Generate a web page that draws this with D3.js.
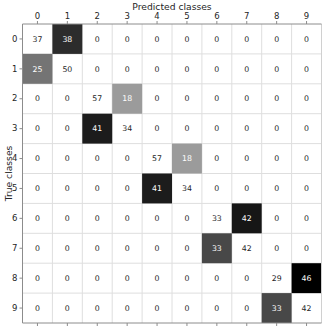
<!DOCTYPE html>
<html>
<head>
<meta charset="utf-8">
<script src="https://cdn.jsdelivr.net/npm/d3@7"></script>
<style>
  body { margin: 0; background: #fff; }
  svg { display: block; font-family: "DejaVu Sans", sans-serif; }
</style>
</head>
<body>
<svg width="329" height="329"></svg>
<script>
// class labels on both axes
var classes = ["0", "1", "2", "3", "4", "5", "6", "7", "8", "9"];

// confusion matrix, one array per true class (row), predicted class in columns
var row0 = [37, 38, 0, 0, 0, 0, 0, 0, 0, 0];
var row1 = [25, 50, 0, 0, 0, 0, 0, 0, 0, 0];
var row2 = [0, 0, 57, 18, 0, 0, 0, 0, 0, 0];
var row3 = [0, 0, 41, 34, 0, 0, 0, 0, 0, 0];
var row4 = [0, 0, 0, 0, 57, 18, 0, 0, 0, 0];
var row5 = [0, 0, 0, 0, 41, 34, 0, 0, 0, 0];
var row6 = [0, 0, 0, 0, 0, 0, 33, 42, 0, 0];
var row7 = [0, 0, 0, 0, 0, 0, 33, 42, 0, 0];
var row8 = [0, 0, 0, 0, 0, 0, 0, 0, 29, 46];
var row9 = [0, 0, 0, 0, 0, 0, 0, 0, 33, 42];
var rows = [row0, row1, row2, row3, row4, row5, row6, row7, row8, row9];

var svg = d3.select("svg"),
    margin = { top: 24, left: 22.5 },
    size = 299;

// flatten into cells
var cells = [];
rows.forEach(function(r, i) {
    r.forEach(function(v, j) {
        cells.push({ row: classes[i], col: classes[j], value: v, diag: i === j });
    });
});

// the diagonal is left white, colour comes from the off-diagonal errors only
var maxOff = d3.max(cells.filter(function(d) { return !d.diag; }), function(d) { return d.value; });
var color = d3.scaleLinear().domain([0, maxOff]).range(["#ffffff", "#000000"]);

var x = d3.scaleBand().domain(classes).range([0, size]),
    y = d3.scaleBand().domain(classes).range([0, size]);

var g = svg.append("g")
    .attr("transform", "translate(" + margin.left + "," + margin.top + ")");

// grid lines on the cell borders, below the cells
var edges = d3.range(1, classes.length);
g.selectAll(".vgrid")
    .data(edges)
    .enter().append("line")
    .attr("x1", function(k) { return x.step() * k; })
    .attr("x2", function(k) { return x.step() * k; })
    .attr("y1", 0).attr("y2", size)
    .attr("stroke", "#dedede").attr("stroke-width", 1);
g.selectAll(".hgrid")
    .data(edges)
    .enter().append("line")
    .attr("y1", function(k) { return y.step() * k; })
    .attr("y2", function(k) { return y.step() * k; })
    .attr("x1", 0).attr("x2", size)
    .attr("stroke", "#dedede").attr("stroke-width", 1);

g.selectAll("rect.cell")
    .data(cells)
    .enter().append("rect")
    .attr("class", "cell")
    .attr("x", function(d) { return x(d.col); })
    .attr("y", function(d) { return y(d.row); })
    .attr("width", x.bandwidth())
    .attr("height", y.bandwidth())
    .attr("fill", function(d) { return (d.diag || d.value === 0) ? "none" : color(d.value); });

g.selectAll("text.val")
    .data(cells)
    .enter().append("text")
    .attr("class", "val")
    .attr("x", function(d) { return x(d.col) + x.bandwidth() / 2; })
    .attr("y", function(d) { return y(d.row) + y.bandwidth() / 2; })
    .attr("text-anchor", "middle")
    .attr("dy", "0.35em")
    .attr("font-size", "7.8px")
    .attr("fill", function(d) { return (!d.diag && d.value > 0) ? "#ffffff" : "#262626"; })
    .text(function(d) { return d.value; });

// axes: labels on top and left, bare ticks at the bottom
var xTop = d3.axisTop(x).tickSize(3).tickPadding(2),
    yLeft = d3.axisLeft(y).tickSize(3).tickPadding(2),
    xBottom = d3.axisBottom(x).tickSize(3).tickFormat("");

function styleAxis(sel) {
    sel.select(".domain").remove();
    sel.selectAll(".tick line").attr("stroke", "#8c8c8c");
    sel.selectAll(".tick text").attr("fill", "#262626").attr("font-size", "8.5px")
        .attr("font-family", "DejaVu Sans, sans-serif");
}

g.append("g").call(xTop).call(styleAxis);
g.append("g").call(yLeft).call(styleAxis);
g.append("g").attr("transform", "translate(0," + size + ")").call(xBottom).call(styleAxis);

// frame
g.append("line").attr("x1", size).attr("x2", size).attr("y1", 0).attr("y2", size)
    .attr("stroke", "#d0d0d0");
g.append("line").attr("x1", 0).attr("x2", 0).attr("y1", 0).attr("y2", size)
    .attr("stroke", "#8c8c8c");
g.append("line").attr("x1", 0).attr("x2", size).attr("y1", 0).attr("y2", 0)
    .attr("stroke", "#8c8c8c");
g.append("line").attr("x1", 0).attr("x2", size).attr("y1", size).attr("y2", size)
    .attr("stroke", "#8c8c8c");

// axis titles
svg.append("text")
    .attr("x", margin.left + size / 2)
    .attr("y", 9.5)
    .attr("text-anchor", "middle")
    .attr("font-size", "9.2px")
    .attr("fill", "#262626")
    .text("Predicted classes");

svg.append("text")
    .attr("transform", "translate(12," + (margin.top + size / 2) + ") rotate(-90)")
    .attr("text-anchor", "middle")
    .attr("font-size", "9.2px")
    .attr("fill", "#262626")
    .text("True classes");
</script>
</body>
</html>
